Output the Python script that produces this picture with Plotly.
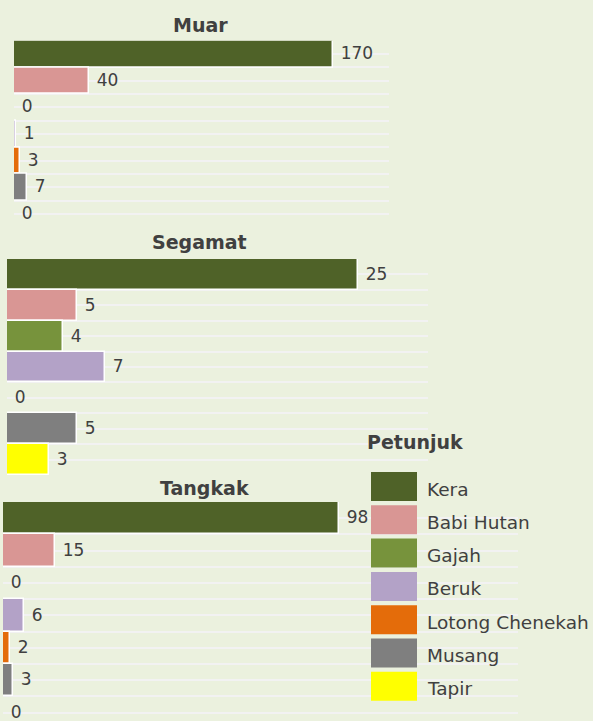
import plotly.graph_objects as go

W, H = 593, 721

categories = ["Kera", "Babi Hutan", "Gajah", "Beruk", "Lotong Chenekah", "Musang", "Tapir"]
colors = ["#4F6228", "#D99694", "#77933C", "#B3A2C7", "#E46C0A", "#7F7F7F", "#FFFF00"]

districts = ["Muar", "Segamat", "Tangkak"]
muar_values = [170, 40, 0, 1, 3, 7, 0]
segamat_values = [25, 5, 4, 7, 0, 5, 3]
tangkak_values = [98, 15, 0, 6, 2, 3, 0]
series = [muar_values, segamat_values, tangkak_values]
x_max = [200, 30, 150]

legend_title = "Petunjuk"

BG = "#EBF1DE"
GRID = "#F2F2F2"
TXT = "#404040"
FONT = "DejaVu Sans"


def px(x):
    return x / W


def py(y):
    return 1 - y / H


# panel geometry in pixels: (left, right, top, bottom), y range end
panels = [
    (14, 389, 40.7, 227.3, 6.5),
    (7, 428, 259, 475, 6.5),
    (3, 518, 502, 721, 6.26),
]
title_pos = [(200, 25), (199, 242), (204, 488)]

fig = go.Figure()
positions = list(range(len(categories)))

for i, (name, vals) in enumerate(zip(districts, series)):
    n = "" if i == 0 else str(i + 1)
    fig.add_trace(go.Bar(
        x=vals,
        y=positions,
        orientation="h",
        marker=dict(color=colors, line=dict(color="white", width=1.5)),
        text=["\u00a0" + str(v) for v in vals],
        textposition="outside",
        textfont=dict(family=FONT, size=17, color=TXT),
        constraintext="none",
        cliponaxis=False,
        showlegend=False,
        hovertext=categories,
        name=name,
        xaxis="x" + n,
        yaxis="y" + n,
    ))
    l, r, t, b, yend = panels[i]
    fig.update_layout(**{
        "xaxis" + n: dict(domain=[px(l), px(r)], range=[0, x_max[i]], anchor="y" + n,
                          showgrid=False, zeroline=False, showticklabels=False,
                          showline=False, ticks=""),
        "yaxis" + n: dict(domain=[py(b), py(t)], range=[yend, -0.5], anchor="x" + n,
                          tickmode="linear", tick0=-0.5, dtick=0.5,
                          showgrid=True, gridcolor=GRID, gridwidth=2,
                          zeroline=False, showticklabels=False, showline=False, ticks=""),
    })
    tx, ty = title_pos[i]
    fig.add_annotation(x=px(tx), y=py(ty), xref="paper", yref="paper",
                       text="<b>" + name + "</b>", showarrow=False,
                       xanchor="center", yanchor="middle",
                       font=dict(family=FONT, size=19, color=TXT))

# legend
fig.add_annotation(x=px(365), y=py(442), xref="paper", yref="paper",
                   text="<b>" + legend_title + "</b>", showarrow=False,
                   xanchor="left", yanchor="middle",
                   font=dict(family=FONT, size=19, color=TXT))
for k, (cat, col) in enumerate(zip(categories, colors)):
    top = 472 + k * 33.3
    fig.add_shape(type="rect", xref="paper", yref="paper",
                  x0=px(371), x1=px(417), y0=py(top + 29), y1=py(top),
                  fillcolor=col, line=dict(width=0))
    fig.add_annotation(x=px(425), y=py(top + 17), xref="paper", yref="paper",
                       text=cat, showarrow=False, xanchor="left", yanchor="middle",
                       font=dict(family=FONT, size=18.5, color=TXT))

fig.update_layout(
    width=W, height=H,
    margin=dict(l=0, r=0, t=0, b=0),
    paper_bgcolor=BG, plot_bgcolor=BG,
    bargap=0,
    showlegend=False,
    font=dict(family=FONT, color=TXT),
)

fig.write_html("out.html",
               config={"displayModeBar": False},
               post_script="document.body.style.margin='0';document.body.style.background='" + BG + "';")
